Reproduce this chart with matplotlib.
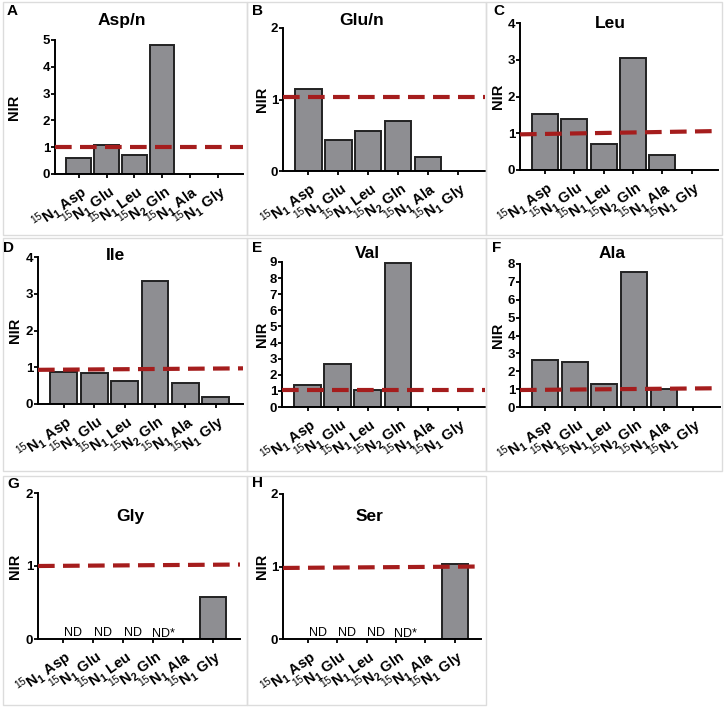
import numpy as np
import matplotlib
matplotlib.use("Agg")
import matplotlib.pyplot as plt
from matplotlib.patches import Rectangle

plt.rcParams['font.family'] = 'Liberation Sans'
plt.rcParams['mathtext.fontset'] = 'custom'
plt.rcParams['mathtext.rm'] = 'Liberation Sans'
plt.rcParams['mathtext.bf'] = 'Liberation Sans:bold'

W, H = 724, 707

# ---- data ----
amino = ['Asp', 'Glu', 'Leu', 'Gln', 'Ala', 'Gly']
n_count = [1, 1, 1, 2, 1, 1]
panel_letters = ['A', 'B', 'C', 'D', 'E', 'F', 'G', 'H']
titles = ['Asp/n', 'Glu/n', 'Leu', 'Ile', 'Val', 'Ala', 'Gly', 'Ser']
nir_asp = [0.60, 1.10, 0.72, 4.82, 0, 0]
nir_glu = [1.15, 0.43, 0.56, 0.70, 0.19, 0]
nir_leu = [1.52, 1.39, 0.70, 3.05, 0.41, 0]
nir_ile = [0.87, 0.85, 0.62, 3.35, 0.57, 0.20]
nir_val = [1.37, 2.68, 1.03, 8.95, 0, 0]
nir_ala = [2.63, 2.52, 1.27, 7.55, 1.02, 0]
nir_gly = [0, 0, 0, 0, 0, 0.58]
nir_ser = [0, 0, 0, 0, 0, 1.03]
y_max = [5, 2, 4, 4, 9, 8, 2, 2]
ref_start = [1.0, 1.03, 0.97, 0.93, 1.05, 0.95, 1.0, 0.98]
ref_end = [1.0, 1.03, 1.06, 0.97, 1.05, 1.05, 1.02, 1.0]
nd_labels = ['ND', 'ND', 'ND', 'ND*', '', '']

all_vals = [nir_asp, nir_glu, nir_leu, nir_ile, nir_val, nir_ala, nir_gly, nir_ser]

# ---- layout (pixels) ----
axes_px = [(55, 243, 174, 40), (283, 485, 171, 28), (520, 718, 170, 23),
           (38, 243, 404, 257), (282, 485, 407, 262), (520, 720, 407, 264),
           (38, 240, 639, 493), (283, 481, 639, 494)]
title_px = [(122, 25), (362, 25), (610, 28), (115, 260), (367, 258), (612, 258),
            (130, 521), (370, 521)]
letter_px = [(7, 15), (252, 15), (493, 15), (3, 252), (252, 252), (492, 252),
             (7, 488), (252, 487)]
nir_x_px = [14, 262, 498, 15, 262, 498, 15, 262]
boxes_px = [(3, 247, 2, 235), (247, 486, 2, 235), (486, 722, 2, 235),
            (3, 247, 238, 471), (247, 486, 238, 471), (486, 722, 238, 471),
            (3, 247, 476, 705), (247, 486, 476, 705)]

BAR_COLOR = '#8e8e92'
RED = '#a51d1d'
XLO, XHI = -0.85, 5.9

fig = plt.figure(figsize=(W / 100, H / 100), dpi=100)

for (x0, x1, y0, y1) in boxes_px:
    fig.patches.append(Rectangle((x0 / W, 1 - y1 / H), (x1 - x0) / W, (y1 - y0) / H,
                                 transform=fig.transFigure, fill=False,
                                 edgecolor='#dcdcdc', lw=1))

xlabels = [r'$^{\mathrm{15}}\mathbf{N}_{\mathbf{%d}}$ %s' % (n, a) for n, a in zip(n_count, amino)]
x = np.arange(len(amino))

for i, vals in enumerate(all_vals):
    l, r, b, t = axes_px[i]
    ax = fig.add_axes([l / W, 1 - b / H, (r - l) / W, (b - t) / H])
    xs = [xi for xi, v in zip(x, vals) if v > 0]
    vs = [v for v in vals if v > 0]
    ax.bar(xs, vs, width=0.88, color=BAR_COLOR, edgecolor='#222222', linewidth=1.4, zorder=2)
    ax.plot([XLO, XHI], [ref_start[i], ref_end[i]], color=RED, lw=3,
            dashes=(4, 2), zorder=3, dash_capstyle='butt')
    ax.set_xlim(XLO, XHI)
    ax.set_ylim(0, y_max[i])
    ax.set_yticks(range(0, y_max[i] + 1))
    ax.set_xticks(x)
    ax.set_xticklabels(xlabels, rotation=35, ha='right', rotation_mode='anchor',
                       fontsize=10.5, fontweight='bold')
    for lab in ax.get_yticklabels():
        lab.set_fontweight('bold')
        lab.set_fontsize(9.5)
    ax.tick_params(axis='both', length=3, width=1.3, pad=2)
    ax.tick_params(axis='y', pad=0.5)
    for s in ['top', 'right']:
        ax.spines[s].set_visible(False)
    for s in ['left', 'bottom']:
        ax.spines[s].set_linewidth(1.4)
    ax.set_ylabel('NIR', fontsize=10.5, fontweight='bold')
    ax.yaxis.set_label_coords((nir_x_px[i] - l) / (r - l), 0.5)
    ax.yaxis.label.set_va('center')
    ax.patch.set_alpha(0)

    if i >= 6:
        for j, nd in enumerate(nd_labels):
            if nd:
                star = nd.endswith('*')
                ax.text(x[j] + (-0.05 if star else 0.02), 0.025 if star else 0.035,
                        nd, fontsize=9, ha='left', va='baseline')

    tx, ty = title_px[i]
    fig.text(tx / W, 1 - ty / H, titles[i], fontsize=12.5, fontweight='bold',
             ha='center', va='baseline')
    lx, ly = letter_px[i]
    fig.text(lx / W, 1 - ly / H, panel_letters[i], fontsize=11, fontweight='bold',
             ha='left', va='baseline')

fig.savefig('out.png', dpi=100)
